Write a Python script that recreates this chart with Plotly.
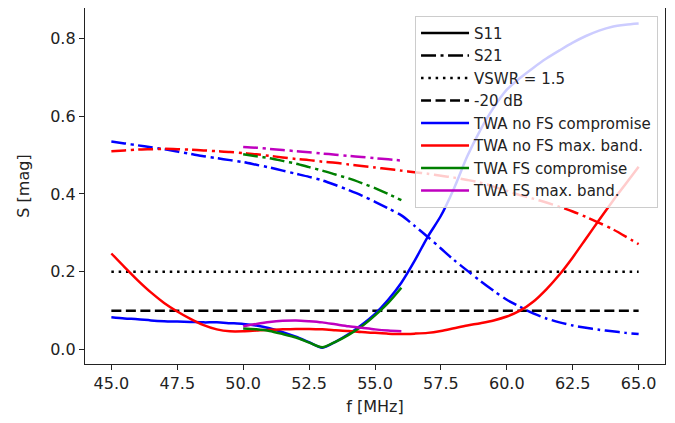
import plotly.graph_objects as go

# frequency grids [MHz]
f_full = [45, 45.5, 46, 46.5, 47, 47.5, 48, 48.5, 49, 49.5, 50, 50.5, 51, 51.5,
          52, 52.5, 53, 53.5, 54, 54.5, 55, 55.5, 56, 56.5, 57, 57.5, 58, 58.5,
          59, 59.5, 60, 60.5, 61, 61.5, 62, 62.5, 63, 63.5, 64, 64.5, 65]
f_fs = [50, 50.5, 51, 51.5, 52, 52.5, 53, 53.5, 54, 54.5, 55, 55.5, 56]

# TWA no FS compromise
s11_nofs_comp = [0.083, 0.080, 0.078, 0.075, 0.073, 0.072, 0.071, 0.070, 0.070, 0.068,
                 0.066, 0.062, 0.055, 0.045, 0.033, 0.019, 0.005, 0.020, 0.040, 0.064,
                 0.092, 0.128, 0.172, 0.228, 0.290, 0.344, 0.415, 0.497, 0.565, 0.622,
                 0.668, 0.698, 0.724, 0.748, 0.769, 0.789, 0.806, 0.820, 0.830, 0.835, 0.838]
s21_nofs_comp = [0.535, 0.530, 0.525, 0.520, 0.515, 0.509, 0.503, 0.497, 0.492, 0.487,
                 0.482, 0.475, 0.468, 0.460, 0.452, 0.444, 0.435, 0.423, 0.410, 0.396,
                 0.380, 0.363, 0.345, 0.318, 0.290, 0.260, 0.230, 0.203, 0.176, 0.151,
                 0.128, 0.110, 0.093, 0.080, 0.070, 0.062, 0.056, 0.051, 0.047, 0.043, 0.040]

# TWA no FS max. band.
s11_nofs_max = [0.247, 0.212, 0.178, 0.147, 0.120, 0.098, 0.079, 0.063, 0.052, 0.047,
                0.047, 0.049, 0.051, 0.052, 0.053, 0.053, 0.052, 0.050, 0.048, 0.045,
                0.043, 0.041, 0.040, 0.041, 0.043, 0.048, 0.055, 0.062, 0.068, 0.075,
                0.085, 0.100, 0.123, 0.155, 0.193, 0.237, 0.285, 0.333, 0.380, 0.425, 0.470]
s21_nofs_max = [0.510, 0.512, 0.514, 0.515, 0.516, 0.515, 0.514, 0.512, 0.510, 0.508,
                0.505, 0.502, 0.498, 0.494, 0.490, 0.487, 0.483, 0.480, 0.476, 0.472,
                0.468, 0.464, 0.460, 0.456, 0.452, 0.447, 0.442, 0.436, 0.429, 0.419,
                0.408, 0.397, 0.388, 0.378, 0.367, 0.355, 0.341, 0.326, 0.310, 0.291, 0.271]

# TWA FS compromise
s11_fs_comp = [0.054, 0.052, 0.048, 0.040, 0.031, 0.018, 0.006, 0.020, 0.038, 0.060,
               0.088, 0.120, 0.159]
s21_fs_comp = [0.502, 0.497, 0.492, 0.485, 0.478, 0.469, 0.460, 0.450, 0.440, 0.428,
               0.415, 0.400, 0.384]

# TWA FS max. band.
s11_fs_max = [0.060, 0.066, 0.071, 0.074, 0.075, 0.073, 0.070, 0.065, 0.060, 0.056,
              0.052, 0.049, 0.047]
s21_fs_max = [0.521, 0.519, 0.516, 0.513, 0.510, 0.507, 0.504, 0.501, 0.498, 0.495,
              0.492, 0.489, 0.486]

vswr_level = 0.2
db20_level = 0.1

LW = 2.5
DASHDOT = "15px,4.5px,3px,4.5px"
DOT = "2.5px,4.8px"
DASH = "10px,4.5px"

fig = go.Figure()

# style-only legend entries
for name, dash in [("S11", "solid"), ("S21", DASHDOT),
                   ("VSWR = 1.5", DOT), ("-20 dB", DASH)]:
    fig.add_trace(go.Scatter(x=[None], y=[None], mode="lines", name=name,
                             line=dict(color="black", width=LW, dash=dash)))

fig.add_trace(go.Scatter(x=[f_full[0], f_full[-1]], y=[vswr_level, vswr_level],
                         mode="lines", showlegend=False,
                         line=dict(color="black", width=LW, dash=DOT)))
fig.add_trace(go.Scatter(x=[f_full[0], f_full[-1]], y=[db20_level, db20_level],
                         mode="lines", showlegend=False,
                         line=dict(color="black", width=LW, dash=DASH)))

configs = [
    ("TWA no FS compromise", "#0000ff", f_full, s11_nofs_comp, s21_nofs_comp),
    ("TWA no FS max. band.", "#ff0000", f_full, s11_nofs_max, s21_nofs_max),
    ("TWA FS compromise", "#008000", f_fs, s11_fs_comp, s21_fs_comp),
    ("TWA FS max. band.", "#bf00bf", f_fs, s11_fs_max, s21_fs_max),
]

for name, color, f, s11, s21 in configs:
    fig.add_trace(go.Scatter(x=f, y=s11, mode="lines", name=name,
                             line=dict(color=color, width=LW, shape="spline",
                                       smoothing=0.8)))
    fig.add_trace(go.Scatter(x=f, y=s21, mode="lines", showlegend=False,
                             line=dict(color=color, width=LW, dash=DASHDOT,
                                       shape="spline", smoothing=0.8)))

axis_style = dict(
    showline=True, linecolor="#222", linewidth=1.3, mirror=True,
    ticks="outside", ticklen=5, tickwidth=1.2, tickcolor="#222",
    showgrid=False, zeroline=False,
    tickfont=dict(size=16, color="#222"),
    title_font=dict(size=16, color="#222"),
)

# the page body adds an 8 px offset, so the figure is a bit smaller than the window
fig.update_layout(
    width=667, height=415,
    margin=dict(l=77, r=10, t=0, b=59),
    plot_bgcolor="white", paper_bgcolor="white",
    font=dict(family="DejaVu Sans", size=16, color="#222"),
    xaxis=dict(range=[44, 66], tickvals=[45, 47.5, 50, 52.5, 55, 57.5, 60, 62.5, 65],
               ticktext=["45.0", "47.5", "50.0", "52.5", "55.0", "57.5", "60.0", "62.5", "65.0"],
               title_text="f [MHz]", title_standoff=8, **axis_style),
    yaxis=dict(range=[-0.037, 0.878], tickvals=[0, 0.2, 0.4, 0.6, 0.8],
               ticktext=["0.0", "0.2", "0.4", "0.6", "0.8"],
               title_text="S [mag]", title_standoff=16, **axis_style),
    legend=dict(x=0.988, y=0.978, xanchor="right", yanchor="top",
                bgcolor="rgba(255,255,255,0.8)", bordercolor="#cccccc",
                borderwidth=1, itemwidth=48, font=dict(size=15, color="#222")),
)

fig.write_html("out.html")
